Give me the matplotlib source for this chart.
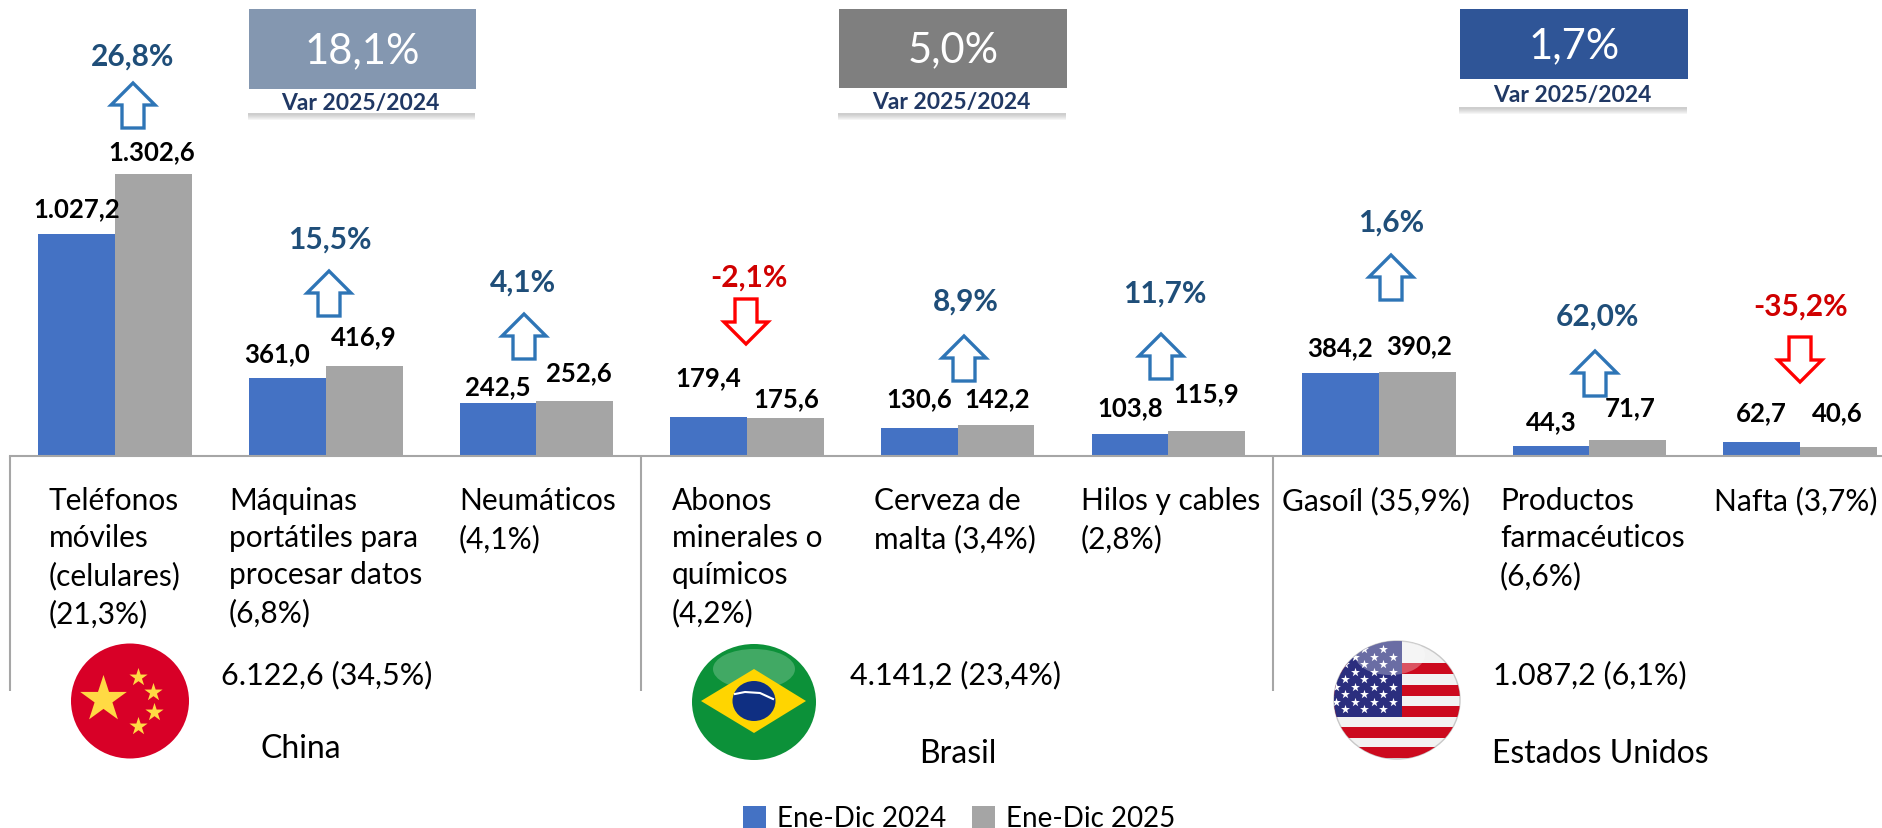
import numpy as np
import matplotlib
matplotlib.use('Agg')
import matplotlib.pyplot as plt
from matplotlib.patches import Rectangle, Ellipse, Polygon

plt.rcParams['font.family'] = ['Lato', 'DejaVu Sans']

W, H = 1882, 829
BASE_PX = 457
PX_PER_UNIT = 0.2165
STEP_PX = 210.6

labels_cat = [
    'Teléfonos\nmóviles\n(celulares)\n(21,3%)',
    'Máquinas\nportátiles para\nprocesar datos\n(6,8%)',
    'Neumáticos\n(4,1%)',
    'Abonos\nminerales o\nquímicos\n(4,2%)',
    'Cerveza de\nmalta (3,4%)',
    'Hilos y cables\n(2,8%)',
    'Gasoíl (35,9%)',
    'Productos\nfarmacéuticos\n(6,6%)',
    'Nafta (3,7%)',
]
v2024 = [1027.2, 361.0, 242.5, 179.4, 130.6, 103.8, 384.2, 44.3, 62.7]
v2025 = [1302.6, 416.9, 252.6, 175.6, 142.2, 115.9, 390.2, 71.7, 40.6]
var_pct = [26.8, 15.5, 4.1, -2.1, 8.9, 11.7, 1.6, 62.0, -35.2]
countries = ['China', 'Brasil', 'Estados Unidos']
totals = ['6.122,6 (34,5%)', '4.141,2 (23,4%)', '1.087,2 (6,1%)']
country_var = ['18,1%', '5,0%', '1,7%']


def es(v, d=1):
    s = f'{v:,.{d}f}'
    return s.replace(',', '#').replace('.', ',').replace('#', '.')


# label offsets from the bar top, in pixels (dx, dy)
off_2024 = [(0, 25), (-10, 25), (0, 17), (0, 40), (0, 30), (0, 26), (-1, 26), (0, 25), (0, 30)]
off_2025 = [(-2, 23), (0, 30), (4, 29), (1, 20), (1, 27), (0, 38), (2, 26), (2, 33), (-1, 35)]

# layout of the annotations, in pixels
cat_x = [49, 229, 459, 672, 874, 1081, 1282, 1500, 1714]
cat_y = 487
pct_pos = [(133, 57), (330, 240), (523, 283), (749, 278), (966, 302), (1165, 294), (1391, 223), (1597, 317), (1801, 307)]
arrow_pos = [(133, 84), (329, 272), (524, 315), (746, 300), (964, 337), (1161, 335), (1391, 256), (1595, 352), (1800, 338)]
box_pos = [(249, 10, 227, 80, 24), (839, 10, 228, 79, 25), (1460, 10, 228, 70, 28)]
box_col = ['#8497B0', '#7F7F7F', '#2F5597']
sep_x = [10, 641, 1273]
total_pos = [(221, 675), (850, 675), (1493, 675)]
country_pos = [(301, 749), (958, 754), (1600, 754)]

fig = plt.figure(figsize=(W / 100, H / 100), dpi=100)
ax = fig.add_axes([10 / W, 1 - BASE_PX / H, (W - 10) / W, BASE_PX / H])
x = np.arange(len(v2024))
bw = 76.8 / STEP_PX
b1 = ax.bar(x - bw / 2, v2024, bw, color='#4472C4', label='Ene-Dic 2024')
b2 = ax.bar(x + bw / 2, v2025, bw, color='#A5A5A5', label='Ene-Dic 2025')
ax.set_xlim(-0.5, -0.5 + (W - 10) / STEP_PX)
ax.set_ylim(0, BASE_PX / PX_PER_UNIT)
for s in ['top', 'left', 'right']:
    ax.spines[s].set_visible(False)
ax.spines['bottom'].set_color('#A6A6A6')
ax.spines['bottom'].set_linewidth(1.5)
ax.set_yticks([])
ax.set_xticks([])
ax.patch.set_alpha(0)

for i in x:
    ax.annotate(es(v2024[i]), (i - bw / 2, v2024[i]), xytext=off_2024[i], textcoords='offset pixels',
                ha='center', va='center', fontsize=18.5, fontweight='bold', color='black')
    ax.annotate(es(v2025[i]), (i + bw / 2, v2025[i]), xytext=off_2025[i], textcoords='offset pixels',
                ha='center', va='center', fontsize=18.5, fontweight='bold', color='black')

ax.legend(handles=[b1, b2], loc='center', bbox_to_anchor=(0.507, -0.793), ncol=2, frameon=False,
          fontsize=20, handlelength=0.85, handleheight=0.85, handletextpad=0.4, columnspacing=0.9)

# overlay in pixel coordinates
ov = fig.add_axes([0, 0, 1, 1])
ov.set_xlim(0, W)
ov.set_ylim(H, 0)
ov.axis('off')
ov.patch.set_alpha(0)

for sx in sep_x:
    ov.plot([sx, sx], [BASE_PX, 692], color='#A6A6A6', lw=1.5, solid_capstyle='butt')

for i, txt in enumerate(labels_cat):
    ov.text(cat_x[i], cat_y, txt, ha='left', va='top', fontsize=21.5, linespacing=1.4, color='black')


def block_arrow(cx, top, up, col):
    w, h = 44, 45
    hh, sw = 22, 11
    if up:
        pts = [(cx, top), (cx + w / 2, top + hh), (cx + sw, top + hh), (cx + sw, top + h),
               (cx - sw, top + h), (cx - sw, top + hh), (cx - w / 2, top + hh)]
    else:
        b = top + h
        pts = [(cx, b), (cx + w / 2, b - hh), (cx + sw, b - hh), (cx + sw, top),
               (cx - sw, top), (cx - sw, b - hh), (cx - w / 2, b - hh)]
    ov.add_patch(Polygon(pts, closed=True, fc='white', ec=col, lw=2.4, joinstyle='miter'))


for i, p in enumerate(var_pct):
    up = p >= 0
    ov.text(pct_pos[i][0], pct_pos[i][1], es(p) + '%', ha='center', va='center', fontsize=21.5,
            fontweight='bold', color='#1F4E79' if up else '#D00000')
    block_arrow(arrow_pos[i][0], arrow_pos[i][1], up, '#2E75B6' if up else '#FF0000')

for i, (bx, by, bw_px, bh, sh) in enumerate(box_pos):
    # soft shadow under the white strip
    for k in range(6, 0, -1):
        ov.add_patch(Rectangle((bx - 1, by + bh + sh), bw_px, k + 1, fc='#7F7F7F', alpha=0.07, ec='none'))
    ov.add_patch(Rectangle((bx - 1, by + bh), bw_px, sh, fc='white', ec='none'))
    ov.add_patch(Rectangle((bx, by), bw_px, bh, fc=box_col[i], ec='none'))
    ov.text(bx + bw_px / 2, by + bh / 2 + 1, country_var[i], color='white', ha='center', va='center', fontsize=30)
    ov.text(bx + bw_px / 2 - 2, by + bh + sh / 2 + 1, 'Var 2025/2024', color='#203864', ha='center', va='center',
            fontsize=16.5, fontweight='bold')

for i in range(3):
    ov.text(total_pos[i][0], total_pos[i][1], totals[i], ha='left', va='center', fontsize=22)
    ov.text(country_pos[i][0], country_pos[i][1], countries[i], ha='center', va='center', fontsize=23)


def clip_to(artists, clip):
    for a in artists:
        a.set_clip_path(clip)


# China
e = Ellipse((130, 702), 118, 115, fc='#D80027', ec='none')
ov.add_patch(e)
ov.scatter([103], [700], marker='*', s=1250, c='#FFDA44', linewidths=0)
ov.scatter([138, 153, 154, 138], [678, 693, 713, 727], marker='*', s=190, c='#FFDA44', linewidths=0)

# Brasil
e = Ellipse((754, 703), 124, 116, fc='#0C9139', ec='none')
ov.add_patch(e)
ov.add_patch(Ellipse((754, 670), 82, 40, fc='white', alpha=0.22, ec='none'))
ov.add_patch(Polygon([(701, 702), (754, 670), (806, 702), (754, 734)], fc='#FFD500', ec='none'))
ov.add_patch(Ellipse((754, 702), 43, 40, fc='#0F2F82', ec='none'))
ov.plot([735, 745, 760, 773], [695, 693, 694, 700], color='white', lw=1.5)

# Estados Unidos
e = Ellipse((1397, 701), 126, 118, fc='#F2F2F2', ec='#C8C8C8', lw=1)
ov.add_patch(e)
stripes = []
for yy in [664, 686, 707, 728, 750]:
    r = Rectangle((1333, yy - (2 if yy == 750 else 0)), 130, 11, fc='#CC0A1E', ec='none')
    ov.add_patch(r)
    stripes.append(r)
canton = Rectangle((1333, 640), 69, 78, fc='#2B2E7E', ec='none')
ov.add_patch(canton)
star_x = [1345, 1364, 1383] * 5 + [1336, 1355, 1374, 1393] * 4
star_y = sum([[yy] * 3 for yy in [650, 665, 680, 695, 710]], []) + sum([[yy] * 4 for yy in [658, 673, 688, 703]], [])
st = ov.scatter(star_x, star_y, marker='*', s=45, c='white', linewidths=0)
clip_to(stripes + [canton, st], e)
gl = ov.add_patch(Ellipse((1390, 656), 70, 40, fc='white', alpha=0.3, ec='none'))
gl.set_clip_path(e)

fig.savefig('out.png', dpi=100)
